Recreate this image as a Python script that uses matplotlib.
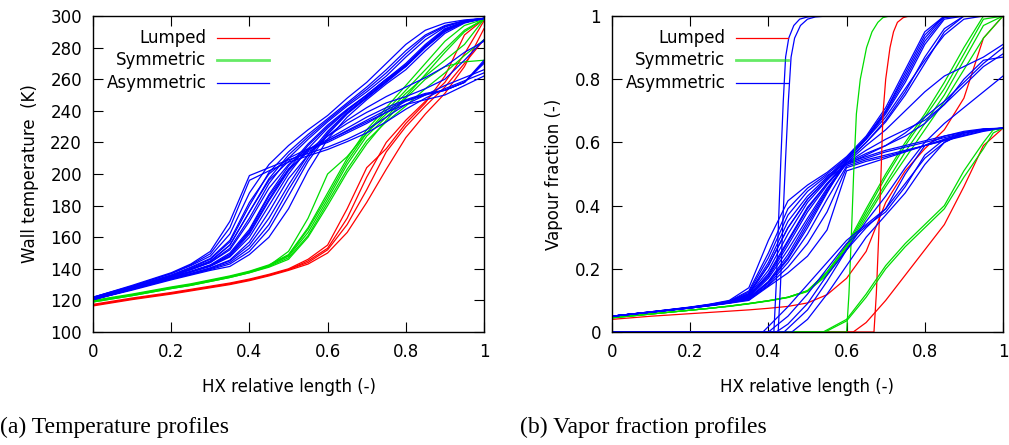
import numpy as np
import matplotlib
matplotlib.use('Agg')
import matplotlib.pyplot as plt

plt.rcParams['font.family'] = ['DejaVu Sans']

RED = '#ff0000'
GREEN = '#00dd00'
BLUE = '#0000ff'

# ---------------- (a) wall temperature ----------------
xt = [0, 0.1, 0.2, 0.25, 0.3, 0.35, 0.4, 0.45, 0.5, 0.55, 0.6, 0.65, 0.7, 0.75, 0.8, 0.85, 0.9, 0.95, 1.0]

temp_lumped = [
    [117.5, 121.5, 125, 127, 129, 131, 133.5, 136.5, 140, 146, 155, 178, 204, 216, 232, 245, 262, 288, 298],
    [117, 121, 124.5, 126.5, 128.5, 130.5, 133, 136, 139.5, 145, 153, 172, 198, 220, 234, 246, 258, 276, 297],
    [116.5, 120.5, 124, 126, 128, 130, 132.5, 135.5, 139, 143, 150, 163, 182, 203, 223, 238, 251, 268, 292],
    [117, 121, 124.5, 126.5, 128.5, 130.5, 133, 136, 139.5, 144, 152, 168, 190, 214, 230, 243, 255, 270, 285],
]
temp_symmetric = [
    [119.5, 123.5, 128, 130, 132.5, 135, 138, 142, 151, 172, 200, 211, 226, 240, 253, 266, 279, 291, 298],
    [119.5, 123.5, 128, 130, 132.5, 135, 138, 142, 148, 163, 184, 206, 224, 236, 249, 263, 277, 290, 298],
    [119, 123, 127.5, 129.5, 132, 134.5, 137.5, 141.5, 147, 161, 182, 203, 221, 233, 243, 254, 264, 275, 285],
    [119, 123, 127.5, 129.5, 132, 134.5, 137.5, 141, 146, 160, 180, 201, 219, 234, 248, 260, 268, 271, 272],
    [120, 124, 128.5, 130.5, 133, 135.5, 138.5, 142.5, 149, 166, 188, 210, 228, 242, 256, 270, 284, 294, 298],
    [119.5, 123.5, 128, 130, 132.5, 135, 138, 142, 148.5, 165, 186, 208, 226, 238, 251, 262, 272, 282, 298],
]
temp_asymmetric = [
    [122, 129, 137, 142, 148, 162, 188, 206, 218, 228, 237, 248, 258, 270, 282, 291, 295.5, 297.5, 298.5],
    [121.5, 128.5, 136, 140.5, 146, 157, 180, 201, 214, 225, 235, 245, 255, 266, 278, 288, 294, 297, 298.5],
    [121.5, 128, 135.5, 139.5, 144.5, 155, 176, 197, 212, 223.5, 234, 244, 253.5, 264, 276, 287, 293.5, 297, 298.5],
    [121.5, 128, 135.5, 139.5, 144, 153, 172, 194, 210, 222, 233, 243, 252, 262, 274, 285, 293, 297, 298.5],
    [121, 127.5, 135, 138.5, 142.5, 150, 165, 187, 205, 219, 231, 241, 250, 260, 268, 280, 291, 296, 298.5],
    [121, 127.5, 134.5, 138, 142, 149, 163, 184, 203, 218, 230, 240.5, 250, 260, 269, 281, 291.5, 296.3, 298.5],
    [121, 127.5, 134.5, 138, 141.5, 147.5, 160, 180, 200, 216, 229, 240, 250, 260, 270, 282, 292, 296.5, 298.5],
    [120.5, 127, 134, 137, 140.5, 145, 155, 172, 193, 212, 227, 239, 249, 259, 269, 281, 291, 296, 298.5],
    [120.5, 127, 133.5, 136.5, 140, 144, 153, 168, 190, 210, 226, 238.5, 248.5, 258.5, 268.5, 280.5, 290.5, 296, 298.5],
    [120.5, 127, 133.5, 136.5, 139.5, 143, 151, 165, 186, 208, 225, 238, 248, 258, 268, 280, 290, 296, 298.5],
    [120.5, 126.5, 133, 136, 139, 141.5, 149, 160, 178, 202, 222, 236, 247, 257, 266, 278, 289, 295.5, 298.5],
    [122, 129.5, 137.5, 143, 151, 170, 199, 204, 209, 213, 217, 222, 228, 236, 244, 250, 256, 261, 266],
    [122, 129, 137, 142.5, 149.5, 166, 196, 202, 207.5, 211.5, 215.5, 220.5, 226, 233, 241, 248, 254, 259, 264],
    [121.5, 128.5, 136, 141, 146.5, 158, 182, 200, 210, 216, 220, 226, 232, 239, 246, 250, 253, 258, 270],
    [121.5, 128, 135.5, 140, 145, 155, 176, 196, 208, 215.5, 221, 227.5, 234, 240.5, 246.5, 250.5, 253, 258, 271],
    [121, 128, 135, 139.5, 144, 152, 170, 191, 206, 215, 222, 229, 236, 242, 247, 251, 253, 258, 272],
    [121, 127.5, 134.5, 138, 142, 148, 162, 183, 202, 215, 224, 232, 239, 245, 249, 254, 260, 272, 285],
    [120.5, 127, 134, 137, 140.5, 145.5, 157, 176, 197, 212, 224, 234, 242, 249, 255, 261, 268, 277, 284],
    [121, 127.5, 134.5, 138, 142, 149, 164, 186, 203, 214, 221, 227, 233, 239, 244, 247, 250, 256, 262],
]

# ---------------- (b) vapour fraction ----------------
xv = [0, 0.1, 0.2, 0.25, 0.3, 0.35, 0.4, 0.45, 0.5, 0.55, 0.6, 0.65, 0.7, 0.75, 0.8, 0.85, 0.9, 0.95, 1.0]

vap_lumped = [
    [0.04, 0.05, 0.058, 0.062, 0.066, 0.07, 0.075, 0.081, 0.092, 0.118, 0.17, 0.255, 0.41, 0.51, 0.58, 0.64, 0.74, 0.93, 1.0],
]
vap_symmetric = [
    [0.045, 0.057, 0.069, 0.075, 0.082, 0.09, 0.099, 0.11, 0.13, 0.19, 0.27, 0.38, 0.49, 0.59, 0.68, 0.77, 0.88, 0.99, 1.0],
    [0.045, 0.057, 0.069, 0.075, 0.082, 0.09, 0.099, 0.11, 0.13, 0.185, 0.265, 0.37, 0.47, 0.57, 0.66, 0.75, 0.86, 0.97, 1.0],
    [0.045, 0.057, 0.069, 0.075, 0.081, 0.089, 0.098, 0.109, 0.128, 0.18, 0.26, 0.36, 0.46, 0.55, 0.64, 0.73, 0.83, 0.93, 1.0],
    [0.045, 0.057, 0.069, 0.075, 0.082, 0.09, 0.099, 0.11, 0.131, 0.19, 0.275, 0.39, 0.50, 0.60, 0.69, 0.79, 0.90, 1.0, 1.0],
]
vap_asymmetric = [
    [0.05, 0.064, 0.079, 0.088, 0.10, 0.14, 0.29, 0.415, 0.465, 0.505, 0.555, 0.62, 0.71, 0.83, 0.95, 1.0, 1.0, 1.0, 1.0],
    [0.05, 0.064, 0.078, 0.087, 0.098, 0.13, 0.25, 0.39, 0.455, 0.50, 0.55, 0.615, 0.70, 0.82, 0.94, 1.0, 1.0, 1.0, 1.0],
    [0.05, 0.064, 0.078, 0.087, 0.097, 0.126, 0.235, 0.37, 0.445, 0.495, 0.535, 0.555, 0.575, 0.59, 0.605, 0.62, 0.632, 0.641, 0.645],
    [0.05, 0.063, 0.078, 0.086, 0.096, 0.122, 0.22, 0.35, 0.43, 0.49, 0.55, 0.615, 0.70, 0.81, 0.93, 1.0, 1.0, 1.0, 1.0],
    [0.05, 0.063, 0.077, 0.086, 0.095, 0.12, 0.21, 0.33, 0.42, 0.485, 0.548, 0.612, 0.695, 0.80, 0.92, 0.995, 1.0, 1.0, 1.0],
    [0.05, 0.063, 0.077, 0.085, 0.095, 0.12, 0.21, 0.33, 0.42, 0.485, 0.53, 0.55, 0.57, 0.585, 0.60, 0.615, 0.63, 0.64, 0.645],
    [0.05, 0.063, 0.077, 0.085, 0.095, 0.117, 0.195, 0.31, 0.41, 0.48, 0.545, 0.61, 0.69, 0.79, 0.91, 0.99, 1.0, 1.0, 1.0],
    [0.05, 0.063, 0.077, 0.085, 0.094, 0.114, 0.185, 0.29, 0.395, 0.47, 0.54, 0.60, 0.665, 0.75, 0.85, 0.95, 1.0, 1.0, 1.0],
    [0.05, 0.063, 0.077, 0.085, 0.094, 0.114, 0.18, 0.285, 0.39, 0.47, 0.53, 0.56, 0.59, 0.63, 0.68, 0.73, 0.79, 0.85, 0.90],
    [0.05, 0.063, 0.077, 0.085, 0.094, 0.112, 0.175, 0.275, 0.38, 0.465, 0.54, 0.60, 0.67, 0.76, 0.87, 0.96, 1.0, 1.0, 1.0],
    [0.05, 0.063, 0.077, 0.085, 0.094, 0.11, 0.17, 0.26, 0.36, 0.455, 0.535, 0.565, 0.59, 0.62, 0.66, 0.72, 0.78, 0.84, 0.88],
    [0.05, 0.063, 0.077, 0.084, 0.093, 0.108, 0.16, 0.245, 0.35, 0.45, 0.535, 0.59, 0.64, 0.70, 0.76, 0.81, 0.84, 0.87, 0.91],
    [0.05, 0.063, 0.076, 0.084, 0.093, 0.107, 0.158, 0.235, 0.34, 0.445, 0.535, 0.575, 0.61, 0.64, 0.67, 0.72, 0.80, 0.86, 0.87],
    [0.05, 0.063, 0.076, 0.084, 0.092, 0.106, 0.155, 0.23, 0.33, 0.44, 0.545, 0.61, 0.68, 0.77, 0.86, 0.94, 0.99, 1.0, 1.0],
    [0.05, 0.063, 0.076, 0.084, 0.092, 0.104, 0.15, 0.22, 0.31, 0.42, 0.525, 0.545, 0.56, 0.575, 0.59, 0.605, 0.62, 0.635, 0.645],
    [0.05, 0.063, 0.076, 0.084, 0.092, 0.102, 0.147, 0.205, 0.28, 0.38, 0.52, 0.54, 0.555, 0.572, 0.59, 0.607, 0.622, 0.637, 0.645],
    [0.05, 0.063, 0.076, 0.083, 0.091, 0.10, 0.144, 0.187, 0.24, 0.323, 0.51, 0.53, 0.55, 0.57, 0.59, 0.61, 0.625, 0.64, 0.645],
]

# curves that leave the x axis late (own x positions)
late_x = {
    'lumped': [
        [0, 0.67, 0.676, 0.682, 0.688, 0.693, 0.70, 0.711, 0.72, 0.73, 0.745, 0.76, 1.0],
        [0, 0.617, 0.65, 0.7, 0.75, 0.8, 0.85, 0.9, 0.95, 1.0],
    ],
    'symmetric': [
        [0, 0.60, 0.606, 0.612, 0.618, 0.625, 0.635, 0.651, 0.665, 0.68, 0.693, 0.71, 1.0],
        [0, 0.54, 0.6, 0.65, 0.7, 0.75, 0.8, 0.85, 0.9, 0.95, 0.975, 1.0],
        [0, 0.545, 0.6, 0.65, 0.7, 0.75, 0.8, 0.85, 0.9, 0.95, 0.975, 1.0],
    ],
    'asymmetric': [
        [0, 0.414, 0.42, 0.426, 0.432, 0.438, 0.444, 0.452, 0.465, 0.48, 0.5, 0.525, 1.0],
        [0, 0.425, 0.431, 0.437, 0.444, 0.451, 0.458, 0.467, 0.482, 0.5, 0.52, 0.55, 1.0],
        [0, 0.386, 0.45, 0.5, 0.55, 0.6, 0.65, 0.7, 0.75, 0.8, 0.85, 0.9, 0.95, 1.0],
        [0, 0.40, 0.45, 0.5, 0.55, 0.6, 0.65, 0.7, 0.75, 0.8, 0.85, 0.9, 0.95, 1.0],
        [0, 0.42, 0.45, 0.5, 0.55, 0.6, 0.65, 0.7, 0.75, 0.8, 0.85, 0.9, 0.95, 1.0],
        [0, 0.44, 0.5, 0.55, 0.6, 0.65, 0.7, 0.75, 0.8, 0.85, 0.9, 0.95, 1.0],
        [0, 0.46, 0.5, 0.55, 0.6, 0.65, 0.7, 0.75, 0.8, 0.85, 0.9, 0.95, 1.0],
    ],
}
late_y = {
    'lumped': [
        [0, 0, 0.12, 0.3, 0.5, 0.69, 0.80, 0.90, 0.95, 0.98, 0.995, 1.0, 1.0],
        [0, 0, 0.03, 0.10, 0.18, 0.26, 0.34, 0.46, 0.59, 0.645],
    ],
    'symmetric': [
        [0, 0, 0.12, 0.3, 0.5, 0.69, 0.80, 0.90, 0.95, 0.98, 0.995, 1.0, 1.0],
        [0, 0, 0.04, 0.12, 0.21, 0.28, 0.34, 0.40, 0.51, 0.60, 0.64, 0.645],
        [0, 0, 0.035, 0.11, 0.20, 0.27, 0.33, 0.39, 0.49, 0.58, 0.63, 0.645],
    ],
    'asymmetric': [
        [0, 0, 0.15, 0.35, 0.55, 0.73, 0.87, 0.93, 0.97, 0.99, 0.997, 1.0, 1.0],
        [0, 0, 0.15, 0.35, 0.55, 0.73, 0.87, 0.93, 0.97, 0.99, 0.997, 1.0, 1.0],
        [0, 0, 0.08, 0.15, 0.22, 0.29, 0.34, 0.39, 0.50, 0.59, 0.62, 0.635, 0.643, 0.645],
        [0, 0, 0.05, 0.12, 0.20, 0.28, 0.335, 0.38, 0.46, 0.56, 0.61, 0.63, 0.642, 0.645],
        [0, 0, 0.025, 0.09, 0.18, 0.26, 0.33, 0.39, 0.47, 0.55, 0.60, 0.63, 0.64, 0.645],
        [0, 0, 0.07, 0.16, 0.26, 0.35, 0.43, 0.52, 0.60, 0.66, 0.71, 0.76, 0.81],
        [0, 0, 0.04, 0.12, 0.21, 0.30, 0.37, 0.44, 0.53, 0.60, 0.63, 0.64, 0.645],
    ],
}

legend_labels = ['Lumped', 'Symmetric', 'Asymmetric']
legend_colors = [RED, GREEN, BLUE]

fig = plt.figure(figsize=(10.09, 4.45), dpi=100)
ax1 = fig.add_axes([93 / 1009, 113 / 445, 391 / 1009, 316 / 445])
ax2 = fig.add_axes([612 / 1009, 113 / 445, 391 / 1009, 316 / 445])

lw = 0.9
for ys in temp_lumped:
    ax1.plot(xt, ys, color=RED, lw=lw)
for ys in temp_symmetric:
    ax1.plot(xt, ys, color=GREEN, lw=lw)
for ys in temp_asymmetric:
    ax1.plot(xt, ys, color=BLUE, lw=lw)

for ys in vap_lumped:
    ax2.plot(xv, ys, color=RED, lw=lw)
for ys in vap_symmetric:
    ax2.plot(xv, ys, color=GREEN, lw=lw)
for ys in vap_asymmetric:
    ax2.plot(xv, ys, color=BLUE, lw=lw)
for key, col in zip(['lumped', 'symmetric', 'asymmetric'], legend_colors):
    for xs, ys in zip(late_x[key], late_y[key]):
        ax2.plot(xs, ys, color=col, lw=lw)

ax1.set_xlim(0, 1)
ax1.set_ylim(100, 300)
ax1.set_yticks(np.arange(100, 301, 20))
ax1.set_ylabel('Wall temperature  (K)', fontsize=12, labelpad=8)

ax2.set_xlim(0, 1)
ax2.set_ylim(0, 1)
ax2.set_yticks([0, 0.2, 0.4, 0.6, 0.8, 1])
ax2.set_yticklabels(['0', '0.2', '0.4', '0.6', '0.8', '1'])
ax2.set_ylabel('Vapour fraction (-)', fontsize=12, labelpad=8)

for ax in (ax1, ax2):
    ax.set_xticks([0, 0.2, 0.4, 0.6, 0.8, 1])
    ax.set_xticklabels(['0', '0.2', '0.4', '0.6', '0.8', '1'])
    ax.set_xlabel('HX relative length (-)', fontsize=12, labelpad=12)
    ax.tick_params(direction='in', top=True, right=True, length=7, width=0.8,
                   labelsize=12, pad=8)
    for s in ax.spines.values():
        s.set_linewidth(1.0)
    # gnuplot-style key: right aligned text, sample line after it
    for i, (lab, col) in enumerate(zip(legend_labels, legend_colors)):
        yy = 0.93 - i * 0.0705
        ax.text(0.29, yy, lab, transform=ax.transAxes, ha='right', va='center', fontsize=12)
        ax.plot([0.318, 0.45], [yy, yy], transform=ax.transAxes, color=col,
                lw=2.0 if col == GREEN else lw, alpha=0.6 if col == GREEN else 1.0)

fig.text(0.0, 0.04, '(a) Temperature profiles', family='Liberation Serif', fontsize=17, va='center')
fig.text(0.515, 0.04, '(b) Vapor fraction profiles', family='Liberation Serif', fontsize=17, va='center')

fig.savefig('out.png', dpi=100)
